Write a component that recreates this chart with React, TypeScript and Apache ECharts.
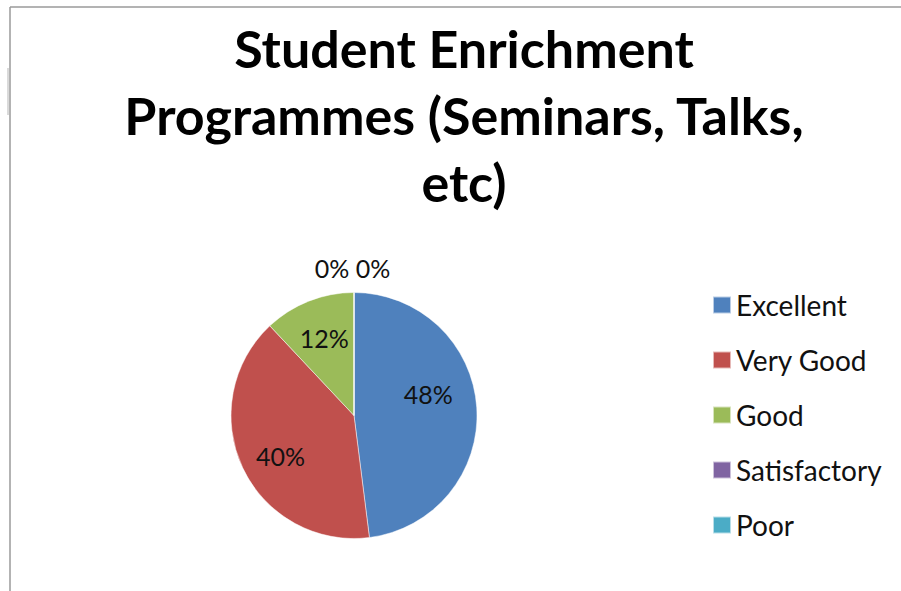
import React, { useEffect, useRef } from "react";
import * as echarts from "echarts";

const titleLines = ["Student Enrichment", "Programmes (Seminars, Talks,", "etc)"];
const categories = ["Excellent", "Very Good", "Good", "Satisfactory", "Poor"];
const percentages = [48, 40, 12, 0, 0];
const sliceColors = ["#4F81BD", "#C0504D", "#9BBB59", "#8064A2", "#4BACC6"];
// label nudges [dx, dy] from the library's inside-label anchor
const labelNudges: [number, number][] = [
  [10, -17],
  [-15, 13],
  [-6, -18],
  [-22, -83],
  [19, -83],
];

function padFor([dx, dy]: [number, number]) {
  return [dy > 0 ? 2 * dy : 0, dx < 0 ? -2 * dx : 0, dy < 0 ? -2 * dy : 0, dx > 0 ? 2 * dx : 0];
}

export default function App() {
  const ref = useRef<HTMLDivElement>(null);
  useEffect(() => {
    if (!ref.current) return;
    const chart = echarts.init(ref.current, null, { renderer: "svg" });
    const font = "Lato, 'DejaVu Sans', sans-serif";
    chart.setOption({
      animation: false,
      backgroundColor: "#ffffff",
      legend: {
        orient: "vertical",
        left: 712,
        top: 291,
        padding: 0,
        itemWidth: 18,
        itemHeight: 17,
        itemGap: 27,
        icon: "rect",
        selectedMode: false,
        data: categories,
        textStyle: { fontFamily: font, fontSize: 28, color: "#111111" },
      },
      graphic: [
        { type: "line", shape: { x1: 10, y1: 7, x2: 901, y2: 7 }, style: { stroke: "#9a9a9a", lineWidth: 1.5 } },
        { type: "line", shape: { x1: 10, y1: 7, x2: 10, y2: 591 }, style: { stroke: "#9a9a9a", lineWidth: 1.5 } },
        { type: "line", shape: { x1: 8, y1: 68, x2: 8, y2: 115 }, style: { stroke: "#b5b5b5", lineWidth: 1 } },
        {
          type: "text",
          x: 464,
          y: 14,
          style: {
            text: titleLines.join("\n"),
            align: "center",
            verticalAlign: "top",
            fontFamily: font,
            fontWeight: "bold",
            fontSize: 52,
            lineHeight: 67,
            fill: "#000000",
          },
        },
      ],
      series: [
        {
          type: "pie",
          center: [354, 415.5],
          radius: 123,
          startAngle: 90,
          clockwise: true,
          avoidLabelOverlap: false,
          minShowLabelAngle: 0,
          itemStyle: { borderColor: "rgba(255,255,255,0.6)", borderWidth: 0.8 },
          label: {
            show: true,
            position: "inside",
            formatter: "{v|{c}%}",
            rich: {
              v: { fontFamily: font, fontSize: 25, color: "#111111" },
            },
          },
          labelLine: { show: false },
          emphasis: { disabled: true },
          data: categories.map((name, i) => ({
            name,
            value: percentages[i],
            itemStyle: { color: sliceColors[i] },
            label: { padding: padFor(labelNudges[i]) },
          })),
        },
      ],
    });
    return () => chart.dispose();
  }, []);
  return (
    <div
      ref={ref}
      style={{ position: "fixed", left: 0, top: 0, width: 901, height: 591 }}
    />
  );
}
